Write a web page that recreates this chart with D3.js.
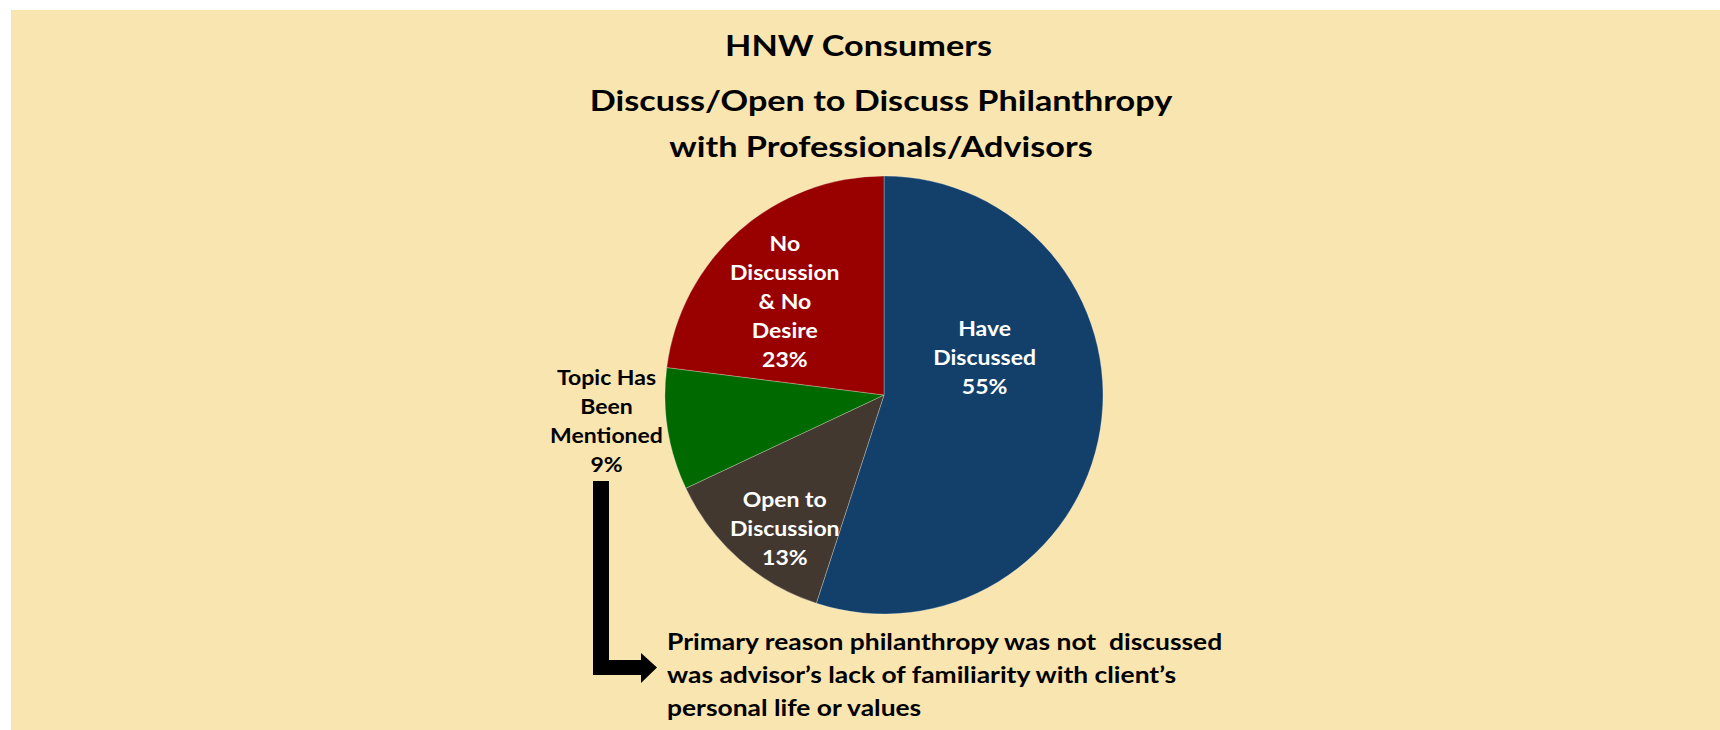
<!DOCTYPE html>
<html>
<head>
<meta charset="utf-8">
<script src="https://cdn.jsdelivr.net/npm/d3@7"></script>
<style>
  body { margin: 0; background: #ffffff; }
  text { font-family: Lato, "Open Sans", sans-serif; font-weight: bold; }
</style>
</head>
<body>
<svg id="chart" width="1720" height="730"></svg>
<script>
// data
var categories = ["Have Discussed", "Open to Discussion", "Topic Has Been Mentioned", "No Discussion & No Desire"];
var values = [55, 13, 9, 23];
var labelLines = [
    ["Have", "Discussed"],
    ["Open to", "Discussion"],
    ["Topic Has", "Been", "Mentioned"],
    ["No", "Discussion", "& No", "Desire"]
];
var titleLines = ["HNW Consumers", "Discuss/Open to Discuss Philanthropy", "with Professionals/Advisors"];
var noteLines = ["Primary reason philanthropy was not  discussed", "was advisor\u2019s lack of familiarity with client\u2019s", "personal life or values"];

// layout
var width = 1720, height = 730;
var cx = 884, cy = 395, radius = 219;
var colors = ["#12406A", "#433830", "#006A00", "#990000"];
var labelColors = ["#ffffff", "#ffffff", "#000000", "#ffffff"];
// first baseline of each label block, relative to pie centre
var labelPos = [
    { dx: 100.6, dy: -59.3 },
    { dx: -99.2, dy: 112.3 },
    { dx: -277.5, dy: -10 },
    { dx: -99.2, dy: -144 }
];
var lineH = 29;

// the source text is horizontally stretched, widen ours the same way
function stretch(sel, k) {
    sel.each(function () {
        var w = this.getComputedTextLength();
        d3.select(this)
            .attr("textLength", w * k)
            .attr("lengthAdjust", "spacingAndGlyphs");
    });
}

var svg = d3.select("#chart");

// background panel
svg.append("rect")
    .attr("x", 11).attr("y", 10)
    .attr("width", width - 11).attr("height", height - 10)
    .attr("fill", "#F9E5B0");

// Title
var titleY = [56, 111, 157];
var titleX = [858.5, 881, 881];
svg.selectAll("text.title")
    .data(titleLines)
    .enter()
    .append("text")
    .attr("class", "title")
    .attr("x", function (d, i) { return titleX[i]; })
    .attr("y", function (d, i) { return titleY[i]; })
    .attr("text-anchor", "middle")
    .style("font-size", "28.5px")
    .attr("fill", "#000")
    .text(function (d) { return d; })
    .call(stretch, 1.2);

// Pie
var pie = d3.pie().sort(null).value(function (d) { return d; });
var arc = d3.arc().innerRadius(0).outerRadius(radius);
var arcs = pie(values);

var g = svg.append("g")
    .attr("transform", "translate(" + cx + "," + cy + ")");

g.selectAll("path")
    .data(arcs)
    .enter()
    .append("path")
    .attr("d", arc)
    .attr("fill", function (d, i) { return colors[i]; })
    .attr("stroke", "rgba(255,255,255,0.35)")
    .attr("stroke-width", 0.8);

// slice labels
arcs.forEach(function (a, i) {
    var lines = labelLines[i].concat([values[i] + "%"]);
    g.selectAll("text.lab" + i)
        .data(lines)
        .enter()
        .append("text")
        .attr("class", "lab" + i)
        .attr("x", labelPos[i].dx)
        .attr("y", function (d, j) { return labelPos[i].dy + j * lineH; })
        .attr("text-anchor", "middle")
        .attr("fill", labelColors[i])
        .style("font-size", "20px")
        .text(function (d) { return d; })
        .call(stretch, 1.15);
});

// Arrow from the small slice label to the note
svg.append("path")
    .attr("d", "M593,481 L609,481 L609,660 L641,660 L641,653 L657,667.5 L641,683 L641,675 L593,675 Z")
    .attr("fill", "#000");

// Note
svg.selectAll("text.note")
    .data(noteLines)
    .enter()
    .append("text")
    .attr("class", "note")
    .attr("x", 667)
    .attr("y", function (d, i) { return 650 + i * 33; })
    .style("font-size", "22px")
    .style("white-space", "pre")
    .attr("fill", "#000")
    .text(function (d) { return d; })
    .call(stretch, 1.2);
</script>
</body>
</html>
